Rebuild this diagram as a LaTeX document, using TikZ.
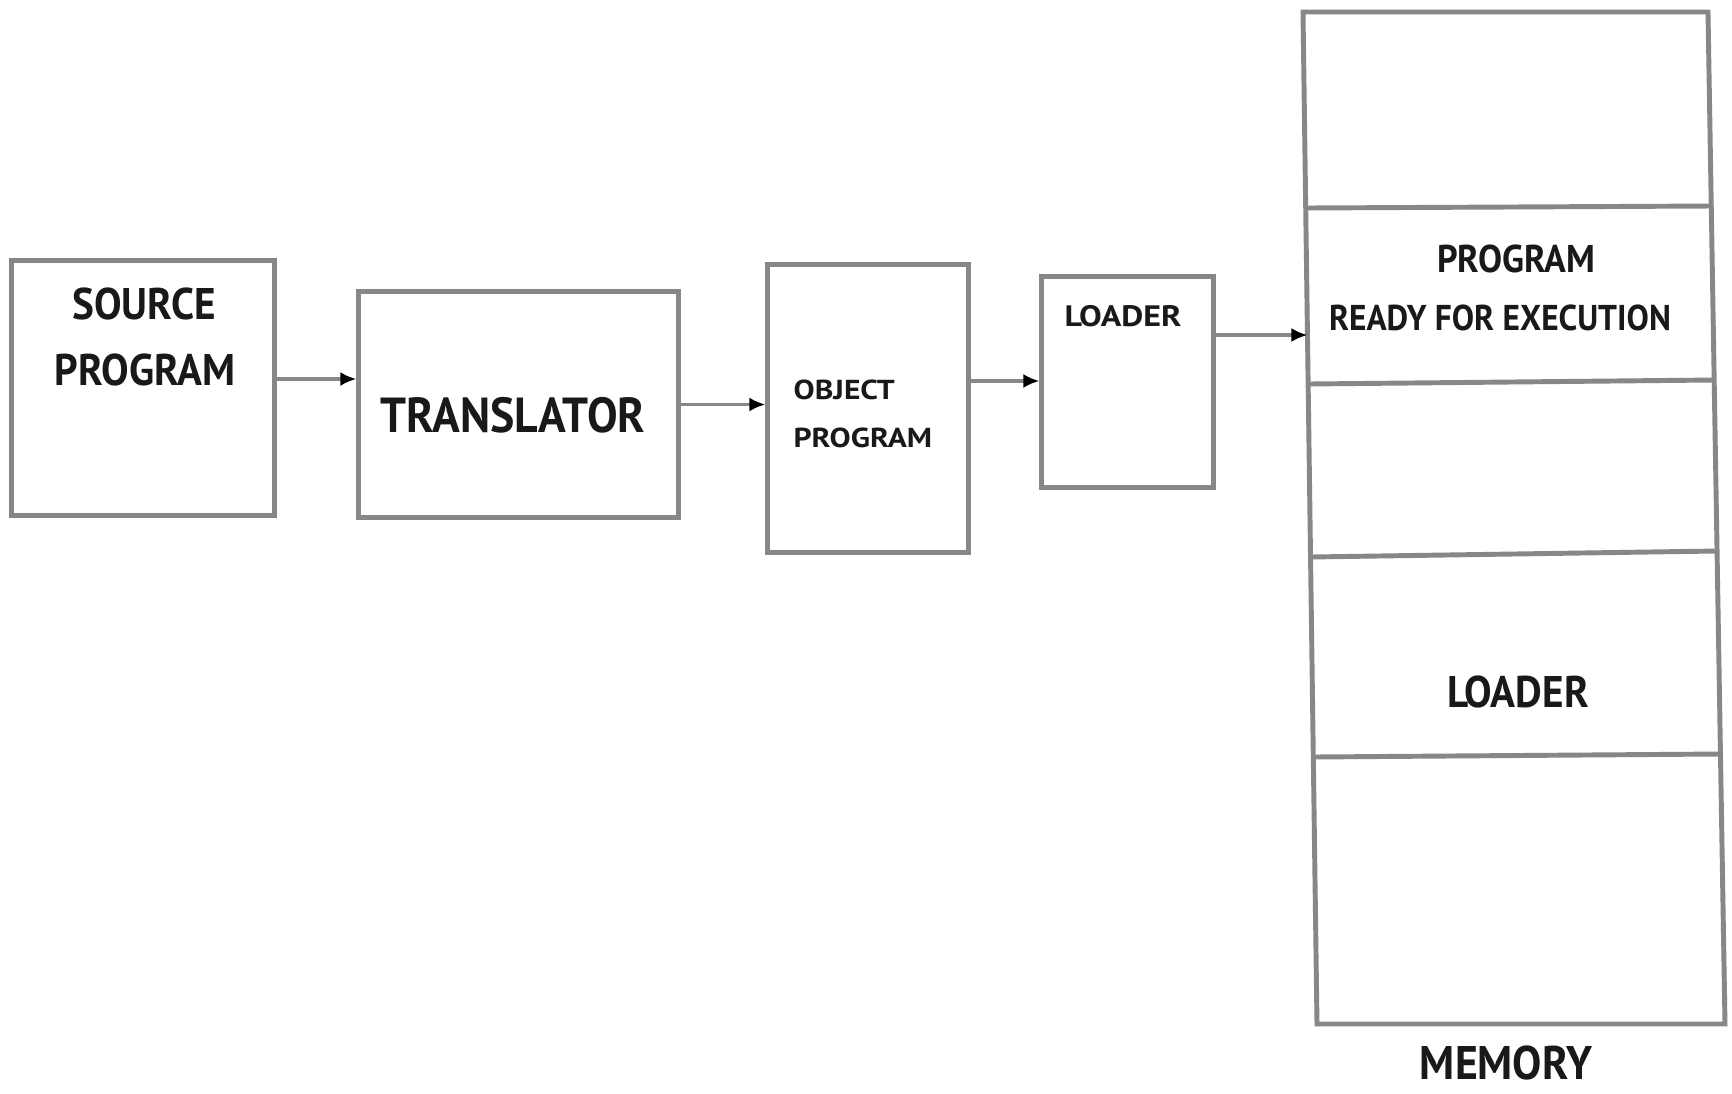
\documentclass[tikz,border=0pt]{standalone}
\usepackage{fontspec}
\setmainfont{PT Sans}[FakeStretch=0.93]
\newfontfamily\widefont{PT Sans}[FakeStretch=1.15]
\usetikzlibrary{arrows.meta,calc}

\definecolor{frame}{RGB}{135,135,135}
\definecolor{ink}{RGB}{25,25,25}

\begin{document}
\begin{tikzpicture}[x=0.01cm,y=-0.01cm,
  box/.style={draw=frame,line width=1.4pt,rectangle,inner sep=0pt},
  lbl/.style={text=ink,inner sep=0pt},
  arr/.style={draw=frame,line width=1.1pt,-{Latex[length=4.6pt,width=4pt,color=black]}},
  sz/.style={font=\fontsize{#1}{#1}\selectfont\bfseries},
  wsz/.style={font=\widefont\fontsize{#1}{#1}\selectfont\bfseries},
]
\fill[white] (0,0) rectangle (1732,1093);
\useasboundingbox (0,0) rectangle (1732,1093);

% processing stages
\node[box,minimum width=2.62cm,minimum height=2.54cm] (src) at (143,388) {};
\node[box,minimum width=3.19cm,minimum height=2.25cm] (tr)  at (518.5,404.5) {};
\node[box,minimum width=2.00cm,minimum height=2.87cm] (obj) at (868,408.5) {};
\node[box,minimum width=1.71cm,minimum height=2.10cm] (ldr) at (1127.5,382) {};

\node[lbl,sz=12.6] (srcA) at (144,304) {SOURCE};
\node[lbl,sz=12.6] (srcB) at (145,370) {PROGRAM};
\node[lbl,sz=14] (trA)  at (513,415) {TRANSLATOR};
\node[lbl,wsz=7.8,anchor=west] (objA) at (793,390) {OBJECT};
\node[lbl,wsz=7.8,anchor=west] (objB) at (793,438) {PROGRAM};
\node[lbl,wsz=8.4,anchor=west] (ldrA) at (1064,316) {LOADER};

% memory column (slightly tilted)
\coordinate (mTL) at (1303,12);
\coordinate (mTR) at (1708,12);
\coordinate (mBR) at (1725,1024);
\coordinate (mBL) at (1317,1024);
\draw[frame,line width=1.4pt] (mTL) -- (mTR) -- (mBR) -- (mBL) -- cycle;
\draw[frame,line width=1.4pt] (1305.7,208) -- (1711.3,206);
\draw[frame,line width=1.4pt] (1308.1,384) -- (1714.2,380);
\draw[frame,line width=1.4pt] (1310.5,557) -- (1717.1,551);
\draw[frame,line width=1.4pt] (1313.3,757) -- (1720.5,754);
\coordinate (memIn) at (1307.5,335);

\node[lbl,sz=11]   (memA) at (1516,259) {PROGRAM};
\node[lbl,sz=10.2] (memB) at (1500,318) {READY FOR EXECUTION};
\node[lbl,sz=12.6] (memC) at (1518,692) {LOADER};
\node[lbl,sz=13.4] (memD) at (1506,1063) {MEMORY};

% connectors
\draw[arr] ([yshift=0.09cm]src.east) -- ([yshift=0.09cm]src.east -| tr.west);
\draw[arr] (tr.east) -- (tr.east -| obj.west);
\draw[arr] ([yshift=0.275cm]obj.east) -- ([yshift=0.275cm]obj.east -| ldr.west);
\draw[arr] ([yshift=0.47cm]ldr.east) -- (memIn);
\end{tikzpicture}
\end{document}
